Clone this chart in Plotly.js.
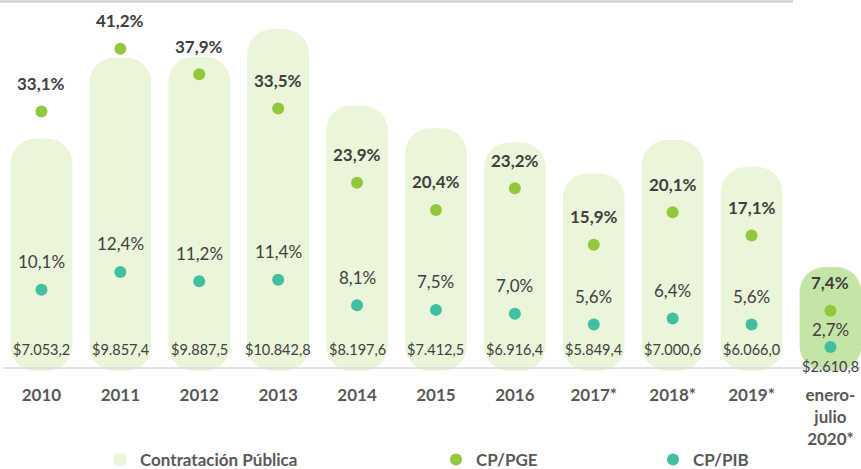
<!DOCTYPE html>
<html>
<head>
<meta charset="utf-8">
<script src="https://cdn.plot.ly/plotly-3.0.1.min.js"></script>
<style>html,body{margin:0;padding:0;background:#fff}#chart{width:861px;height:469px}</style>
</head>
<body>
<div id="chart"></div>
<script>
// ---- data ----
const categories = ['2010', '2011', '2012', '2013', '2014', '2015', '2016', '2017*', '2018*', '2019*', 'enero-<br>julio<br>2020*'];
const contratacion = [7053.2, 9857.4, 9887.5, 10842.8, 8197.6, 7412.5, 6916.4, 5849.4, 7000.6, 6066.0, 2610.8];
const cpPge = [33.1, 41.2, 37.9, 33.5, 23.9, 20.4, 23.2, 15.9, 20.1, 17.1, 7.4];
const cpPib = [10.1, 12.4, 11.2, 11.4, 8.1, 7.5, 7.0, 5.6, 6.4, 5.6, 2.7];
const seriesNames = ['Contratación Pública', 'CP/PGE', 'CP/PIB'];

// ---- style ----
const FONT = 'Lato, "Noto Sans", sans-serif';
const LABEL = '#404040';
const AXIS = '#595959';
const BAR_LIGHT = '#EAF5D9';
const BAR_DARK = '#C5E5A7';
const GREEN = '#93C83C';
const TEAL = '#40C0A1';
const BAR_OFFSET = 986;   // visual floor of the bar axis
const last = categories.length - 1;

function fmtPct(v) { return v.toFixed(1).replace('.', ',') + '%'; }
function fmtMoney(v) {
  const parts = v.toFixed(1).split('.');
  return '$' + parts[0].replace(/\B(?=(\d{3})+(?!\d))/g, '.') + ',' + parts[1];
}

const barColors = categories.map((c, i) => i === last ? BAR_DARK : BAR_LIGHT);

const traces = [
  {
    type: 'bar', name: seriesNames[0], x: categories,
    y: contratacion.map(v => v + BAR_OFFSET), base: -BAR_OFFSET,
    marker: { color: barColors, cornerradius: 25, line: { width: 0 } },
    yaxis: 'y', legend: 'legend', hoverinfo: 'skip'
  },
  {
    type: 'scatter', mode: 'markers', name: seriesNames[1], x: categories, y: cpPge,
    marker: { color: GREEN, size: 12 }, yaxis: 'y2', legend: 'legend2', hoverinfo: 'skip'
  },
  {
    type: 'scatter', mode: 'markers', name: seriesNames[2], x: categories, y: cpPib,
    marker: { color: TEAL, size: 12 }, yaxis: 'y2', legend: 'legend3', hoverinfo: 'skip'
  }
];

// annotations use the category index (numeric-looking category names would be read as indexes)
const annotations = [];
categories.forEach((c, i) => {
  annotations.push({
    x: i, y: cpPge[i], xref: 'x', yref: 'y2', yshift: 28, showarrow: false,
    text: '<b>' + fmtPct(cpPge[i]) + '</b>', font: { family: FONT, size: 17, color: LABEL }
  });
  annotations.push({
    x: i, y: cpPib[i], xref: 'x', yref: 'y2', yshift: i === last ? 18 : 28, showarrow: false,
    text: fmtPct(cpPib[i]), font: { family: FONT, size: 17, color: LABEL }
  });
  annotations.push({
    x: i, y: 0, xref: 'x', yref: 'paper', yanchor: 'middle', yshift: i === last ? 5 : 22, showarrow: false,
    text: fmtMoney(contratacion[i]), font: { family: FONT, size: 14.5, color: LABEL }
  });
});

const legendFont = { family: FONT, size: 17, color: AXIS, weight: 'bold' };
function legendAt(px) {
  return { orientation: 'h', xref: 'container', yref: 'container', x: px / 861, y: 9 / 469,
    xanchor: 'left', yanchor: 'middle', font: legendFont, bgcolor: 'rgba(0,0,0,0)', itemclick: false };
}

const layout = {
  width: 861, height: 469,
  margin: { l: 2, r: 0, t: 4, b: 98 },
  paper_bgcolor: '#fff', plot_bgcolor: '#fff',
  font: { family: FONT },
  bargap: 0.218,
  showlegend: true,
  xaxis: {
    type: 'category', range: [-0.5, 10.387], showgrid: false, zeroline: false, showline: false,
    ticks: '', ticklabelstandoff: 12,
    tickfont: { family: FONT, size: 17, color: AXIS, weight: 'bold' }, fixedrange: true
  },
  yaxis: { range: [-BAR_OFFSET, 11708], visible: false, showgrid: false, zeroline: false, fixedrange: true },
  yaxis2: { range: [-0.387, 46.97], overlaying: 'y', visible: false, showgrid: false, zeroline: false, fixedrange: true },
  legend: legendAt(100),
  legend2: legendAt(436),
  legend3: legendAt(653),
  annotations: annotations,
  shapes: [
    { type: 'line', xref: 'paper', yref: 'paper', x0: 0.0012, x1: 1, y0: 0.0082, y1: 0.0082,
      line: { color: '#D9D9D9', width: 1.5 }, layer: 'above' },
    { type: 'line', xref: 'paper', yref: 'paper', x0: -0.003, x1: 0.9208, y0: 1.007, y1: 1.007,
      line: { color: '#D2D2D2', width: 2.5 }, layer: 'above' }
  ]
};

Plotly.newPlot('chart', traces, layout, { staticPlot: true, displayModeBar: false });
</script>
</body>
</html>
